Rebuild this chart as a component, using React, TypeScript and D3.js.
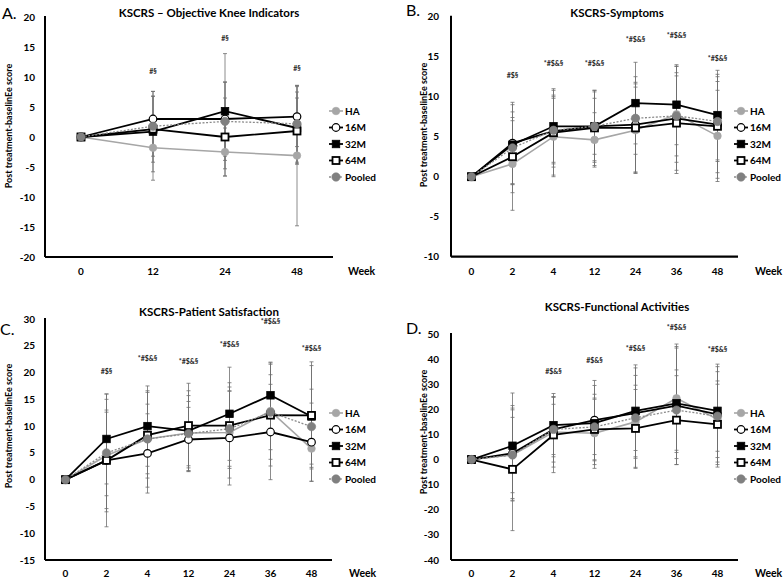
import React from "react";
import * as d3 from "d3";

const FONT = "Lato, 'Liberation Sans', Arial, sans-serif";

const seriesNames = ["HA", "16M", "32M", "64M", "Pooled"];
const weeksA = ["0", "12", "24", "48"];
const weeksB = ["0", "2", "4", "12", "24", "36", "48"];

// Panel A – Objective Knee Indicators
const aMean = {
  HA: [0, -1.8, -2.5, -3.1],
  "16M": [0, 3.0, 3.0, 3.4],
  "32M": [0, 0.9, 4.3, 1.5],
  "64M": [0, 1.3, 0, 1.0],
  Pooled: [0, 1.8, 2.6, 2.2],
};
const aSd = {
  HA: [0, 5.4, 4.0, 11.7],
  "16M": [0, 4.6, 6.2, 5.0],
  "32M": [0, 6.7, 9.6, 6.0],
  "64M": [0, 5.5, 6.5, 5.5],
  Pooled: [0, 5.0, 6.5, 6.4],
};
const aNotes = ["", "#§", "#§", "#§"];
const aNoteY = [0, 10.9, 16.4, 11.4];

// Panel B – Symptoms
const bMean = {
  HA: [0, 1.6, 5.0, 4.6, 5.8, 7.8, 5.1],
  "16M": [0, 4.2, 5.7, 6.3, 6.5, 7.3, 6.5],
  "32M": [0, 4.0, 6.3, 6.3, 9.2, 9.0, 7.7],
  "64M": [0, 2.5, 5.5, 6.1, 6.1, 6.7, 6.3],
  Pooled: [0, 3.6, 5.8, 6.3, 7.3, 7.6, 6.9],
};
const bSd = {
  HA: [0, 5.8, 5.0, 3.4, 5.4, 6.0, 5.7],
  "16M": [0, 5.1, 4.5, 4.5, 6.0, 6.5, 6.0],
  "32M": [0, 5.0, 4.7, 4.3, 5.1, 5.0, 5.6],
  "64M": [0, 4.5, 5.3, 4.7, 5.5, 6.3, 6.5],
  Pooled: [0, 4.5, 4.0, 3.5, 4.5, 5.0, 5.0],
};
const bNotes = ["", "#$§", "*#$&§", "*#$&§", "*#$&§", "*#$&§", "*#$&§"];
const bNoteY = [0, 12.7, 14.2, 14.2, 17.2, 17.6, 14.8];

// Panel C – Patient Satisfaction
const cMean = {
  HA: [0, 4.5, 7.6, 8.7, 8.8, 12.8, 5.8],
  "16M": [0, 3.6, 4.9, 7.5, 7.8, 8.9, 7.0],
  "32M": [0, 7.6, 10.0, 9.1, 12.3, 15.75, 11.8],
  "64M": [0, 3.6, 8.3, 10.1, 10.1, 12.05, 12.0],
  Pooled: [0, 5.0, 7.6, 8.6, 9.5, 12.6, 9.9],
};
const cSd = {
  HA: [0, 10.5, 9.0, 7.0, 8.5, 9.0, 6.1],
  "16M": [0, 9.0, 7.4, 6.0, 8.8, 8.9, 7.3],
  "32M": [0, 8.4, 7.5, 7.5, 8.7, 6.2, 9.5],
  "64M": [0, 12.4, 8.0, 7.9, 8.0, 9.5, 10.0],
  Pooled: [0, 8.0, 6.5, 6.0, 7.0, 7.0, 7.0],
};
const cNotes = ["", "#$§", "*#$&§", "*#$&§", "*#$&§", "*#$&§", "*#$&§"];
const cNoteY = [0, 20.2, 22.7, 22.1, 25.3, 29.5, 24.5];

// Panel D – Functional Activities
const dMean = {
  HA: [0, 1.8, 11.0, 10.5, 15.0, 24.4, 16.0],
  "16M": [0, 2.5, 12.0, 15.7, 18.5, 21.5, 18.0],
  "32M": [0, 5.5, 13.7, 14.5, 19.4, 22.4, 19.4],
  "64M": [0, -3.9, 9.8, 12.0, 12.4, 15.7, 14.0],
  Pooled: [0, 1.8, 12.0, 13.0, 16.6, 19.7, 17.3],
};
const dSd = {
  HA: [0, 18, 14, 14, 18.5, 21.6, 19],
  "16M": [0, 19, 13, 15.8, 18, 23.5, 19],
  "32M": [0, 21, 12.6, 15, 18.3, 22, 18.6],
  "64M": [0, 24.4, 15, 14, 15.5, 17.7, 16],
  Pooled: [0, 15, 10, 11, 13, 16, 14],
};
const dNotes = ["", "", "#$&§", "#$&§", "*#$&§", "*#$&§", "*#$&§"];
const dNoteY = [0, 0, 35, 39.6, 44.3, 52.5, 44];

const yTicksA = [-20, -15, -10, -5, 0, 5, 10, 15, 20];
const yTicksB = [-10, -5, 0, 5, 10, 15, 20];
const yTicksC = [-15, -10, -5, 0, 5, 10, 15, 20, 25, 30];
const yTicksD = [-40, -30, -20, -10, 0, 10, 20, 30, 40, 50];

const titles = [
  "KSCRS – Objective Knee Indicators",
  "KSCRS-Symptoms",
  "KSCRS-Patient Satisfaction",
  "KSCRS-Functional Activities",
];
const letters = ["A.", "B.", "C.", "D."];

const styles = {
  HA: { stroke: "#a6a6a6", width: 1.6, dash: null, marker: "circle", fill: "#a6a6a6", mstroke: "#a6a6a6" },
  "16M": { stroke: "#000", width: 1.8, dash: null, marker: "circle", fill: "#fff", mstroke: "#000" },
  "32M": { stroke: "#000", width: 1.8, dash: null, marker: "square", fill: "#000", mstroke: "#000" },
  "64M": { stroke: "#000", width: 1.8, dash: null, marker: "square", fill: "#fff", mstroke: "#000" },
  Pooled: { stroke: "#8a8a8a", width: 1.3, dash: "2,1.6", marker: "circle", fill: "#808080", mstroke: "#808080" },
};

const panels = [
  {
    weeks: weeksA, mean: aMean, sd: aSd, notes: aNotes, noteY: aNoteY, ticks: yTicksA,
    left: 45, right: 333, top: 17, bottom: 257,
    tickX: 35, xLabY: 271, weekX: 348, legX: 336, legY: 111,
    ylabX: 9, ylabY: 126, titleX: 209, titleY: 13, letterX: 2, letterY: 13,
  },
  {
    weeks: weeksB, mean: bMean, sd: bSd, notes: bNotes, noteY: bNoteY, ticks: yTicksB,
    left: 451, right: 738, top: 16.7, bottom: 256.7,
    tickX: 439, xLabY: 271, weekX: 755, legX: 741, legY: 111,
    ylabX: 424, ylabY: 125, titleX: 617, titleY: 13, letterX: 406, letterY: 10,
  },
  {
    weeks: weeksB, mean: cMean, sd: cSd, notes: cNotes, noteY: cNoteY, ticks: yTicksC,
    left: 45, right: 332, top: 319, bottom: 560,
    tickX: 35, xLabY: 573, weekX: 349, legX: 336, legY: 413,
    ylabX: 9, ylabY: 426, titleX: 209, titleY: 312, letterX: 0, letterY: 329,
  },
  {
    weeks: weeksB, mean: dMean, sd: dSd, notes: dNotes, noteY: dNoteY, ticks: yTicksD,
    left: 451, right: 738, top: 334, bottom: 560,
    tickX: 439, xLabY: 573, weekX: 755, legX: 741, legY: 413,
    ylabX: 424, ylabY: 432, titleX: 617, titleY: 307, letterX: 406, letterY: 328,
  },
];

function Marker({ name, cx, cy }) {
  const s = styles[name];
  if (s.marker === "square") {
    const sz = name === "32M" ? 7.5 : 7;
    return (
      <rect x={cx - sz / 2} y={cy - sz / 2} width={sz} height={sz} fill={s.fill} stroke={s.mstroke}
        strokeWidth={name === "64M" ? 1.8 : 0.8} />
    );
  }
  const r = name === "Pooled" ? 4.2 : 3.8;
  return <circle cx={cx} cy={cy} r={r} fill={s.fill} stroke={s.mstroke} strokeWidth={name === "16M" ? 1.2 : 0.6} />;
}

function Panel({ p, idx }) {
  const x = d3.scalePoint().domain(p.weeks).range([p.left, p.right]).padding(0.5);
  const y = d3.scaleLinear().domain([p.ticks[0], p.ticks[p.ticks.length - 1]]).range([p.bottom, p.top]);
  const line = d3.line().x((d) => d[0]).y((d) => d[1]);
  return (
    <g fontFamily={FONT}>
      <text x={p.letterX} y={p.letterY} dy="0.35em" fontSize={16} fill="#000">{letters[idx]}</text>
      <text x={p.titleX} y={p.titleY} dy="0.35em" textAnchor="middle" fontSize={11.5} fontWeight={700}>{titles[idx]}</text>
      <text transform={`translate(${p.ylabX},${p.ylabY}) rotate(-90)`} dy="0.35em" textAnchor="middle" fontSize={9} fontWeight={700}>
        Post treatment-baselinEe score
      </text>
      {p.ticks.map((t) => (
        <text key={t} x={p.tickX} y={y(t)} dy="0.35em" textAnchor="end" fontSize={10} fontWeight={700}>{t}</text>
      ))}
      {p.weeks.map((w) => (
        <text key={w} x={x(w)} y={p.xLabY} dy="0.35em" textAnchor="middle" fontSize={10} fontWeight={700}>{w}</text>
      ))}
      <text x={p.weekX} y={p.xLabY} dy="0.35em" fontSize={10.5} fontWeight={700}>Week</text>
      {seriesNames.map((n) =>
        p.weeks.map((w, i) => {
          const m = p.mean[n][i];
          const s = p.sd[n][i];
          if (!s) return null;
          const cx = x(w);
          const y1 = y(m + s);
          const y2 = y(m - s);
          return (
            <g key={n + w} stroke="#6e6e6e" strokeWidth={0.8}>
              <line x1={cx} x2={cx} y1={y1} y2={y2} />
              <line x1={cx - 2} x2={cx + 2} y1={y1} y2={y1} />
              <line x1={cx - 2} x2={cx + 2} y1={y2} y2={y2} />
            </g>
          );
        })
      )}
      {p.weeks.map((w, i) =>
        p.notes[i] ? (
          <text key={"n" + w} x={x(w)} y={y(p.noteY[i])} dy="0.35em" textAnchor="middle" fontSize={7} fontWeight={700} fill="#222">
            {p.notes[i]}
          </text>
        ) : null
      )}
      {seriesNames.map((n) => {
        const s = styles[n];
        const pts = p.weeks.map((w, i) => [x(w), y(p.mean[n][i])]);
        return (
          <path key={"l" + n} d={line(pts)} fill="none" stroke={s.stroke} strokeWidth={s.width} strokeDasharray={s.dash || undefined} />
        );
      })}
      {seriesNames.map((n) =>
        p.weeks.map((w, i) => <Marker key={"m" + n + w} name={n} cx={x(w)} cy={y(p.mean[n][i])} />)
      )}
      <line x1={p.left} x2={p.left} y1={p.top - 1} y2={p.bottom} stroke="#000" strokeWidth={2} />
      <line x1={p.left} x2={p.right} y1={p.bottom} y2={p.bottom} stroke="#000" strokeWidth={2.2} />
      {seriesNames.map((n, i) => {
        const s = styles[n];
        const ly = p.legY + i * 16.5;
        return (
          <g key={"lg" + n}>
            <line x1={p.legX - 7} x2={p.legX + 7} y1={ly} y2={ly} stroke={s.stroke} strokeWidth={s.width} strokeDasharray={s.dash || undefined} />
            <Marker name={n} cx={p.legX} cy={ly} />
            <text x={p.legX + 9} y={ly} dy="0.35em" fontSize={10} fontWeight={700}>{n}</text>
          </g>
        );
      })}
    </g>
  );
}

export default function App() {
  return (
    <svg width={784} height={578} style={{ position: "absolute", left: 0, top: 0, background: "#fff" }}>
      <rect width={784} height={578} fill="#fff" />
      {panels.map((p, i) => (
        <Panel key={i} p={p} idx={i} />
      ))}
    </svg>
  );
}
